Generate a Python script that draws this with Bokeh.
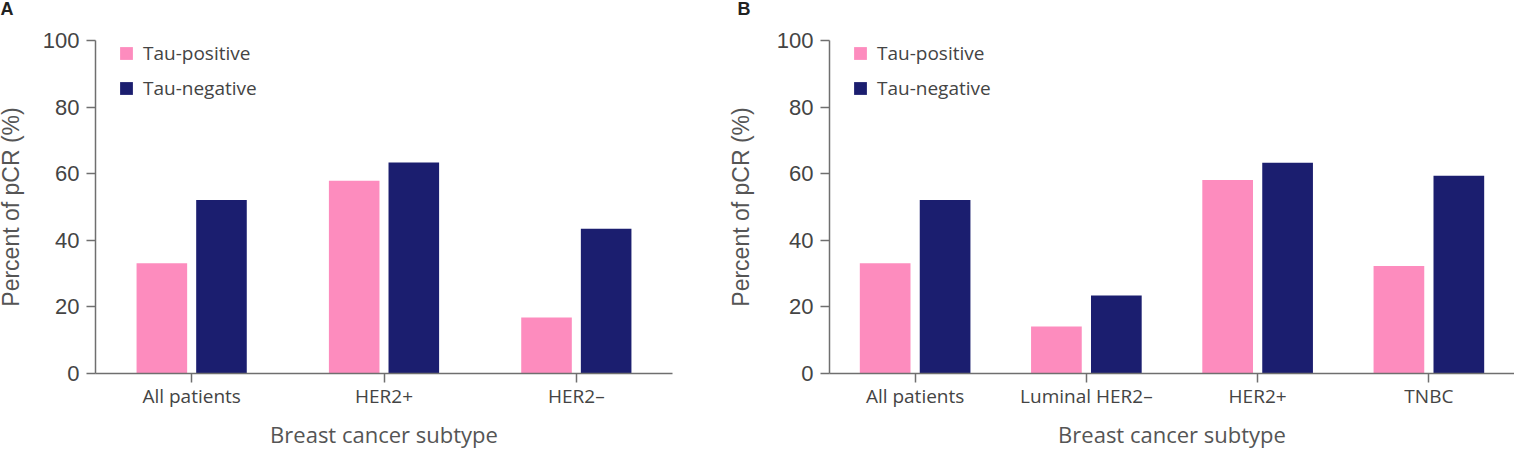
from bokeh.plotting import figure
from bokeh.layouts import row
from bokeh.models import (Range1d, FactorRange, Legend, LegendItem, Title,
                          FixedTicker, ColumnDataSource)
from bokeh.transform import dodge
from bokeh.embed import file_html
from bokeh.resources import INLINE

# ---- data -------------------------------------------------------------
series = ["Tau-positive", "Tau-negative"]
series_colors = ["#fd8cbe", "#1b1e6f"]

subtypes_a = ["All patients", "HER2+", "HER2\u2013"]
tau_pos_a = [33.1, 57.9, 16.8]
tau_neg_a = [52.1, 63.4, 43.5]

subtypes_b = ["All patients", "Luminal HER2\u2013", "HER2+", "TNBC"]
tau_pos_b = [33.1, 14.1, 58.1, 32.3]
tau_neg_b = [52.1, 23.4, 63.3, 59.4]

y_ticks = [0, 20, 40, 60, 80, 100]
y_title = "Percent of pCR (%)"
x_title = "Breast cancer subtype"

# the page is pulled up/left a little so the outer texts sit near the edge
SHIFT_X = 8
SHIFT_Y = 24

FRAME_H = 333
TOP = 40 + SHIFT_Y
BOTTOM = 80
HEIGHT = TOP + FRAME_H + BOTTOM

AXIS_COLOR = "#6f6f6f"
TEXT_COLOR = "#444444"
TITLE_COLOR = "#555555"
NUM_FONT = "Liberation Sans"
CAT_FONT = "Open Sans"


def make_panel(letter, letter_offset, cats, pos, neg, width, left, right,
               offset, bar_w, label_standoff):
    src = ColumnDataSource(dict(cat=cats, pos=pos, neg=neg))
    p = figure(x_range=FactorRange(*cats), y_range=Range1d(0, 100),
               width=width, height=HEIGHT, output_backend="svg",
               toolbar_location=None, min_border_left=left,
               min_border_right=right, min_border_top=TOP,
               min_border_bottom=BOTTOM)
    p.outline_line_color = None
    p.grid.visible = False
    p.background_fill_color = "white"
    p.border_fill_color = "white"
    p.x_range.range_padding = 0

    r_pos = p.vbar(x=dodge("cat", -offset, range=p.x_range), top="pos",
                   width=bar_w, source=src, fill_color=series_colors[0],
                   line_color=None)
    r_neg = p.vbar(x=dodge("cat", offset, range=p.x_range), top="neg",
                   width=bar_w, source=src, fill_color=series_colors[1],
                   line_color=None)

    # y axis
    ya = p.yaxis[0]
    ya.ticker = FixedTicker(ticks=y_ticks)
    ya.minor_tick_line_color = None
    ya.major_tick_out = 9
    ya.major_tick_in = 0
    ya.axis_line_color = AXIS_COLOR
    ya.axis_line_width = 1.5
    ya.major_tick_line_color = AXIS_COLOR
    ya.major_tick_line_width = 1.5
    ya.major_label_text_font = NUM_FONT
    ya.major_label_text_font_size = "22px"
    ya.major_label_text_color = TEXT_COLOR
    ya.major_label_standoff = 7
    ya.axis_label = y_title
    ya.axis_label_text_font = NUM_FONT
    ya.axis_label_text_font_size = "23px"
    ya.axis_label_text_font_style = "normal"
    ya.axis_label_text_color = TITLE_COLOR
    ya.axis_label_standoff = label_standoff

    # x axis
    xa = p.xaxis[0]
    xa.major_tick_out = 9
    xa.major_tick_in = 0
    xa.axis_line_color = AXIS_COLOR
    xa.axis_line_width = 1.5
    xa.major_tick_line_color = AXIS_COLOR
    xa.major_tick_line_width = 1.5
    xa.major_label_text_font = CAT_FONT
    xa.major_label_text_font_size = "19px"
    xa.major_label_text_color = TEXT_COLOR
    xa.major_label_standoff = 0
    xa.axis_label = x_title
    xa.axis_label_text_font = CAT_FONT
    xa.axis_label_text_font_size = "22px"
    xa.axis_label_text_font_style = "normal"
    xa.axis_label_text_color = TITLE_COLOR
    xa.axis_label_standoff = 7

    legend = Legend(items=[LegendItem(label=series[0], renderers=[r_pos]),
                           LegendItem(label=series[1], renderers=[r_neg])],
                    location=(23, FRAME_H - 61),
                    border_line_color=None, background_fill_alpha=0,
                    padding=0, margin=0, spacing=9,
                    glyph_width=16, glyph_height=16, label_height=26,
                    label_standoff=9,
                    label_text_font=CAT_FONT, label_text_font_size="19px",
                    label_text_color=TEXT_COLOR)
    p.add_layout(legend)

    # panel letter in the top border
    p.add_layout(Title(text=letter, align="left", offset=letter_offset,
                       vertical_align="top", standoff=40,
                       text_font=NUM_FONT, text_font_style="bold",
                       text_font_size="18px", text_color="#222222"),
                 "above")
    return p


pa = make_panel("A", -95, subtypes_a, tau_pos_a, tau_neg_a,
                width=700 + SHIFT_X, left=95 + SHIFT_X, right=28,
                offset=0.155, bar_w=0.263, label_standoff=16)
pb = make_panel("B", -92, subtypes_b, tau_pos_b, tau_neg_b,
                width=814, left=129, right=0,
                offset=0.175, bar_w=0.296, label_standoff=20)

layout = row(pa, pb, styles={"margin-left": f"-{SHIFT_X}px",
                             "margin-top": f"-{SHIFT_Y}px"})
open("out.html", "w").write(file_html(layout, INLINE))
